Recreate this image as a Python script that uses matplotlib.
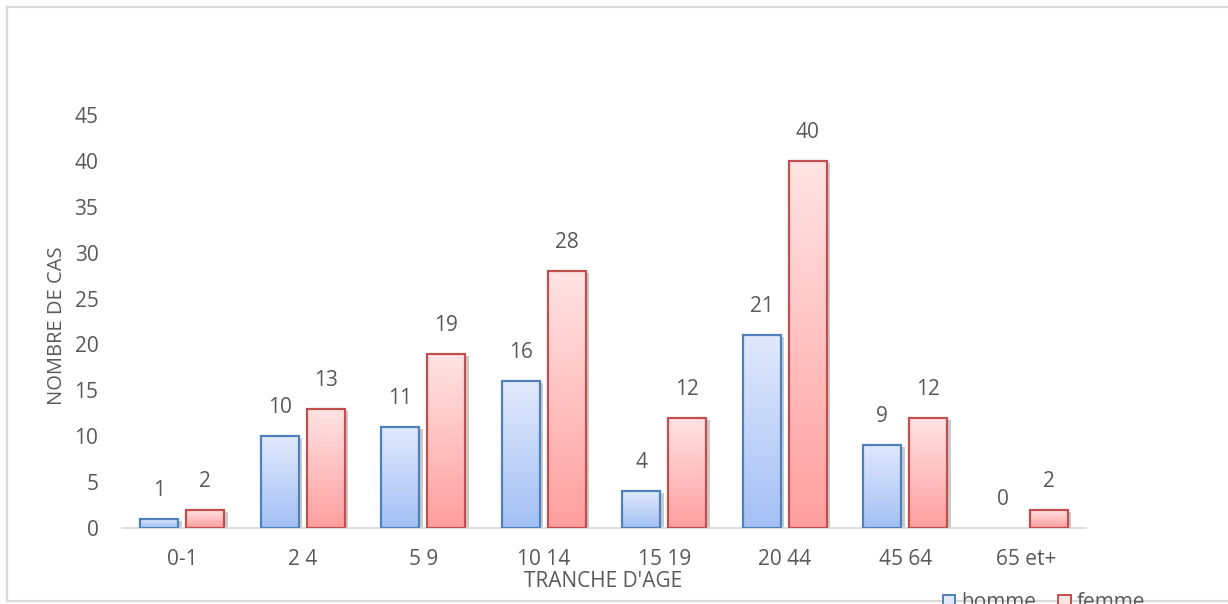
import numpy as np
import matplotlib
matplotlib.use('Agg')
import matplotlib.pyplot as plt
from matplotlib.colors import LinearSegmentedColormap
from matplotlib.lines import Line2D
from matplotlib.patches import Patch
from matplotlib.patheffects import SimplePatchShadow

plt.rcParams['font.family'] = ['Open Sans', 'DejaVu Sans']

# Cases by age group and sex
tranches = ["0-1", "2 4", "5 9", "10 14", "15 19", "20 44", "45 64", "65 et+"]
homme = [1, 10, 11, 16, 4, 21, 9, 0]
femme = [2, 13, 19, 28, 12, 40, 12, 2]

GRAY_TXT = "#595959"
FS = 15
series = [
    ("homme", homme, -0.19, "#4f81bd", ["#a3c0f5", "#e1e9fc"]),
    ("femme", femme, 0.19, "#c0504d", ["#ff9e9e", "#ffe4e4"]),
]

fig = plt.figure(figsize=(12.28, 6.04), dpi=100)
ax = fig.add_axes([122 / 1228, 76 / 604, 964 / 1228, 413 / 604])

x = np.arange(len(tranches))
width = 0.315
grad = np.linspace(0, 1, 256).reshape(-1, 1)

handles = []
for name, vals, off, edge, stops in series:
    cmap = LinearSegmentedColormap.from_list(name, stops)
    # soft drop shadow behind each bar
    ax.bar(x + off, vals, width, color="#b0b0b0", linewidth=0, zorder=1,
           path_effects=[SimplePatchShadow(offset=(2.5, -1.5),
                                           shadow_rgbFace="#8c8c8c", alpha=0.45)])
    bars = ax.bar(x + off, vals, width, facecolor="none", edgecolor=edge,
                  linewidth=1.6, zorder=3)
    for rect, v in zip(bars, vals):
        cx = rect.get_x() + rect.get_width() / 2
        ax.annotate(str(v), (cx, v), xytext=(0, 13), textcoords="offset points",
                    ha="center", va="bottom", fontsize=FS, color=GRAY_TXT)
        if v <= 0:
            rect.set_edgecolor("none")
            continue
        x0 = rect.get_x()
        im = ax.imshow(grad, cmap=cmap, origin="lower", aspect="auto",
                       extent=[x0, x0 + rect.get_width(), 0, rect.get_height()],
                       zorder=2, interpolation="bilinear")
        im.set_clip_path(rect)
    handles.append(Patch(facecolor=stops[1], edgecolor=edge, linewidth=1.4, label=name))

ax.set_xlim(-0.5, len(tranches) - 0.5)
ax.set_ylim(0, 45)
ax.set_yticks(range(0, 46, 5))
ax.set_xticks(x, tranches)
ax.tick_params(axis="both", length=0, labelsize=FS, labelcolor=GRAY_TXT)
ax.tick_params(axis="y", pad=17)
ax.tick_params(axis="x", pad=15)
for side in ("top", "right", "left"):
    ax.spines[side].set_visible(False)
ax.spines["bottom"].set_color("#d9d9d9")
ax.spines["bottom"].set_linewidth(1.2)

ax.set_xlabel("TRANCHE D'AGE", fontsize=FS, color=GRAY_TXT)
ax.xaxis.set_label_coords(0.499, -0.103)
ax.set_ylabel("NOMBRE DE CAS", fontsize=FS - 0.5, color=GRAY_TXT)
ax.yaxis.set_label_coords(-0.057, 0.49)

fig.legend(handles=handles, loc="center left", bbox_to_anchor=(924 / 1228, 1 / 604),
           ncol=2, frameon=False, fontsize=FS, labelcolor=GRAY_TXT,
           handlelength=0.6, handleheight=0.6, handletextpad=0.3, columnspacing=1.05)

# chart area border
for xs, ys in [((7, 7), (3, 597)), ((7, 1228), (597, 597)), ((7, 1228), (3, 3))]:
    fig.add_artist(Line2D([v / 1228 for v in xs], [v / 604 for v in ys],
                          color="#d9d9d9", linewidth=1.6))

fig.savefig("out.png", dpi=100, facecolor="white")
